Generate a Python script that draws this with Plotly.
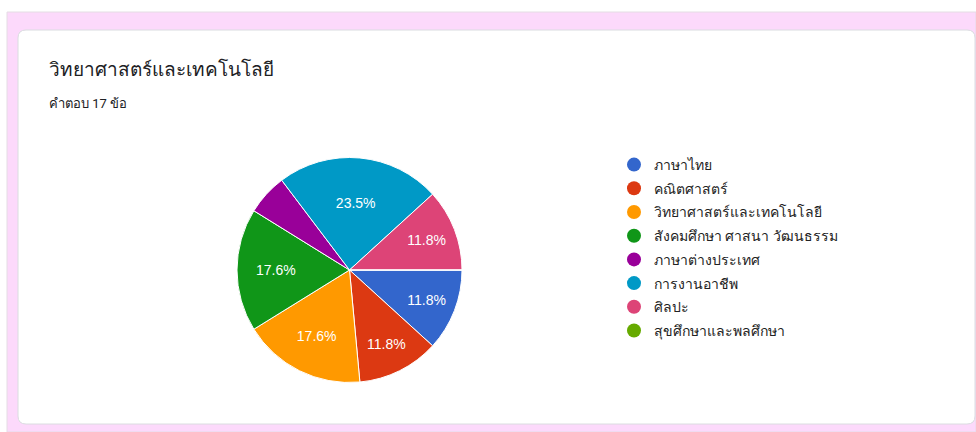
import plotly.graph_objects as go

W, H = 976, 432

subjects = ["ภาษาไทย", "คณิตศาสตร์", "วิทยาศาสตร์และเทคโนโลยี", "สังคมศึกษา ศาสนา วัฒนธรรม",
            "ภาษาต่างประเทศ", "การงานอาชีพ", "ศิลปะ", "สุขศึกษาและพลศึกษา"]
counts = [2, 2, 3, 3, 1, 4, 2, 0]
colors = ["#3366cc", "#dc3912", "#ff9900", "#109618", "#990099", "#0099c6", "#dd4477", "#66aa00"]

title = "วิทยาศาสตร์และเทคโนโลยี"
subtitle = "คำตอบ 17 ข้อ"

total = sum(counts)
# google hides labels on tiny slices
labels_txt = ["%.1f%%" % (c / total * 100) if c / total >= 0.08 else "" for c in counts]


def px(x):
    return x / W


def py(y):
    return 1 - y / H


fig = go.Figure()

fig.add_trace(go.Pie(
    labels=subjects, values=counts, text=labels_txt, textinfo="text",
    sort=False, direction="clockwise", rotation=90,
    marker=dict(colors=colors, line=dict(color="white", width=1)),
    textposition="inside", insidetextorientation="horizontal",
    textfont=dict(color="white", size=14, family="Arial, Liberation Sans, sans-serif"),
    domain=dict(x=[px(237), px(462)], y=[py(383), py(157)]),
    showlegend=False, hoverinfo="label+percent",
))

# legend with round markers
for i, (name, col) in enumerate(zip(subjects, colors)):
    fig.add_trace(go.Scatter(
        x=[None], y=[None], mode="markers", name=name, legendgroup=str(i),
        marker=dict(color=col, size=14, symbol="circle"),
    ))


def rounded(x0, y0, x1, y1, r):
    return (f"M {px(x0 + r)} {py(y0)} L {px(x1 - r)} {py(y0)} "
            f"Q {px(x1)} {py(y0)} {px(x1)} {py(y0 + r)} L {px(x1)} {py(y1 - r)} "
            f"Q {px(x1)} {py(y1)} {px(x1 - r)} {py(y1)} L {px(x0 + r)} {py(y1)} "
            f"Q {px(x0)} {py(y1)} {px(x0)} {py(y1 - r)} L {px(x0)} {py(y0 + r)} "
            f"Q {px(x0)} {py(y0)} {px(x0 + r)} {py(y0)} Z")


fig.update_layout(
    width=W, height=H, margin=dict(l=0, r=0, t=0, b=0),
    paper_bgcolor="white", plot_bgcolor="rgba(0,0,0,0)",
    font=dict(family="Roboto, Arial, sans-serif", color="#202124"),
    xaxis=dict(visible=False), yaxis=dict(visible=False),
    shapes=[
        dict(type="rect", xref="paper", yref="paper", x0=px(7), x1=1, y0=0, y1=py(12),
             fillcolor="#fcd9fb", line=dict(color="#e4dde4", width=1), layer="below"),
        dict(type="path", xref="paper", yref="paper", path=rounded(18, 30, 975, 424, 8),
             fillcolor="white", line=dict(color="#dadce0", width=1), layer="below"),
    ],
    annotations=[
        dict(text=title, x=px(47), y=py(70), xref="paper", yref="paper", xanchor="left",
             yanchor="middle", showarrow=False, font=dict(size=19, color="#202124")),
        dict(text=subtitle, x=px(47), y=py(104), xref="paper", yref="paper", xanchor="left",
             yanchor="middle", showarrow=False, font=dict(size=13, color="#202124")),
    ],
    legend=dict(x=px(614), y=py(149), xanchor="left", yanchor="top",
                traceorder="grouped", tracegroupgap=2.5,
                font=dict(size=14, color="#222222"), bgcolor="rgba(0,0,0,0)"),
)

fig.write_html("out.html", config={"displayModeBar": False},
               post_script="document.body.style.margin='0';")
